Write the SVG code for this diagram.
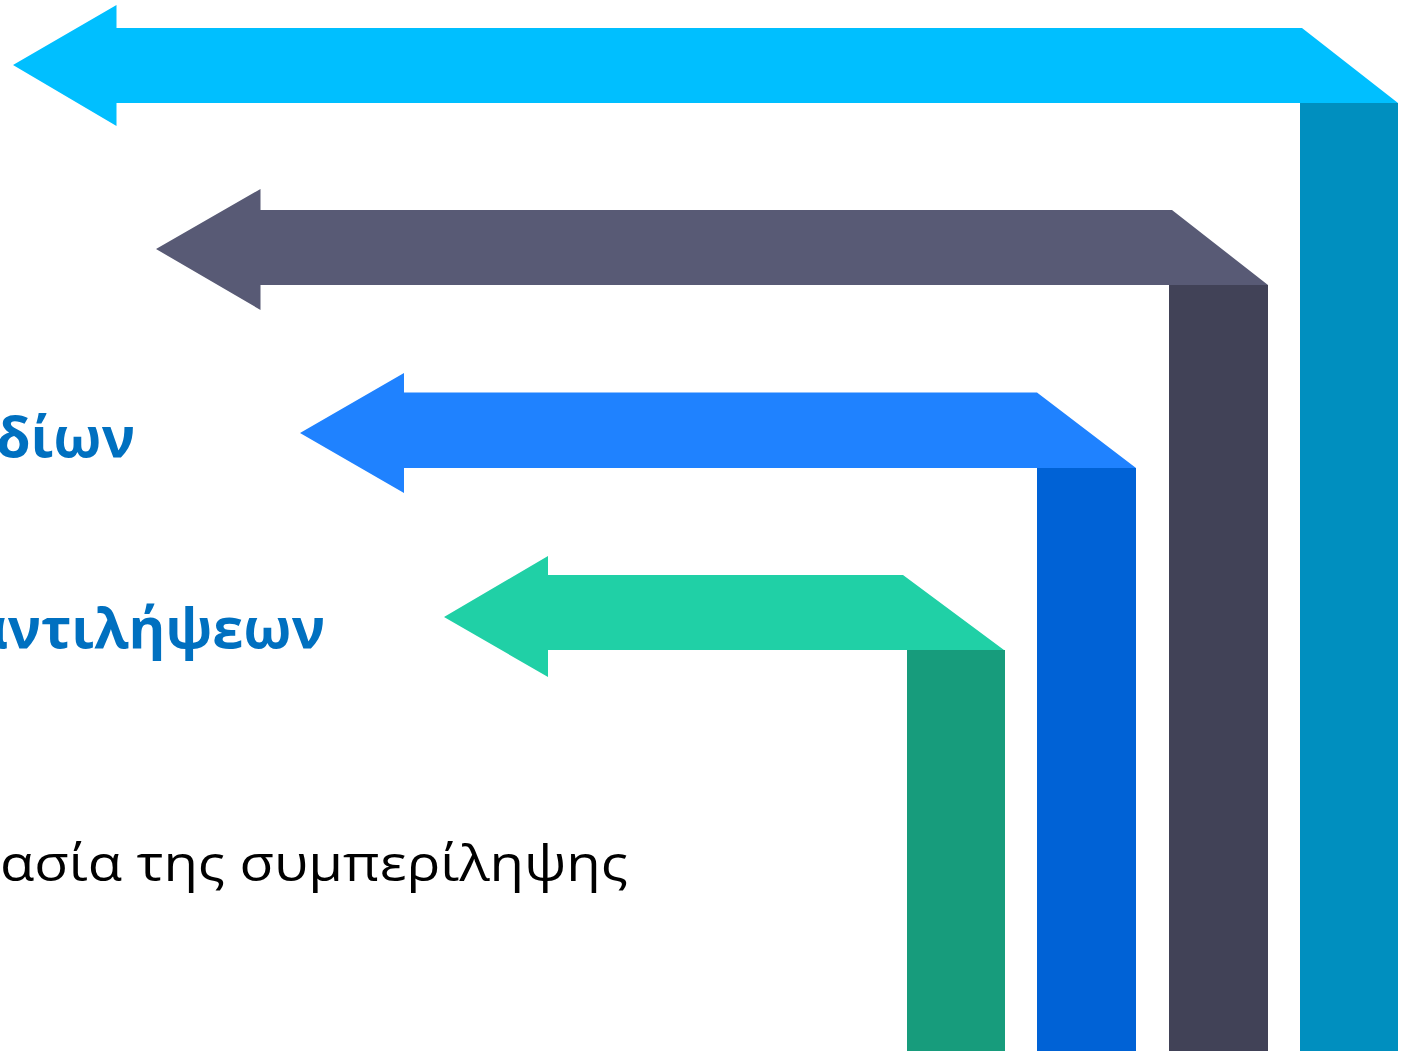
<svg xmlns="http://www.w3.org/2000/svg" width="1409" height="1051" viewBox="0 0 1409 1051">
<style>
.lbl-b{font-family:"Open Sans","Noto Sans","DejaVu Sans",sans-serif;font-weight:bold;fill:#0070C0;font-size:56px}
.lbl-n{font-family:"Open Sans","Noto Sans","DejaVu Sans",sans-serif;fill:#000000;font-size:50px}
</style>
<rect width="1409" height="1051" fill="#FFFFFF"/>
<g id="connectors">
<g id="arrow1">
<rect x="1300" y="103" width="98" height="948" fill="#008FBF"/>
<polygon points="13,65 116.5,5 116.5,28 1302,28 1398,103 116.5,103 116.5,126" fill="#00BFFF"/>
</g>
<g id="arrow2">
<rect x="1169" y="285" width="99" height="766" fill="#414257"/>
<polygon points="156,249 260.5,189 260.5,210 1172,210 1268,285 260.5,285 260.5,310" fill="#585A75"/>
</g>
<g id="arrow3">
<rect x="1037" y="468" width="99" height="583" fill="#0062D6"/>
<polygon points="300,433 404,373 404,392.5 1037,392.5 1136,468 404,468 404,493" fill="#1F82FF"/>
</g>
<g id="arrow4">
<rect x="907" y="650" width="98" height="401" fill="#179C7C"/>
<polygon points="444,617 548,556 548,575 903,575 1004,650 548,650 548,677" fill="#20D0A6"/>
</g>
</g>
<g id="label1"><text class="lbl-b" x="135" y="457" text-anchor="end">δίων</text></g>
<g id="label2"><text class="lbl-b" x="325" y="648" text-anchor="end">αντιλήψεων</text></g>
<g id="label3"><text class="lbl-n" x="0" y="881" textLength="628" lengthAdjust="spacingAndGlyphs">ασία της συμπερίληψης</text></g>
</svg>
